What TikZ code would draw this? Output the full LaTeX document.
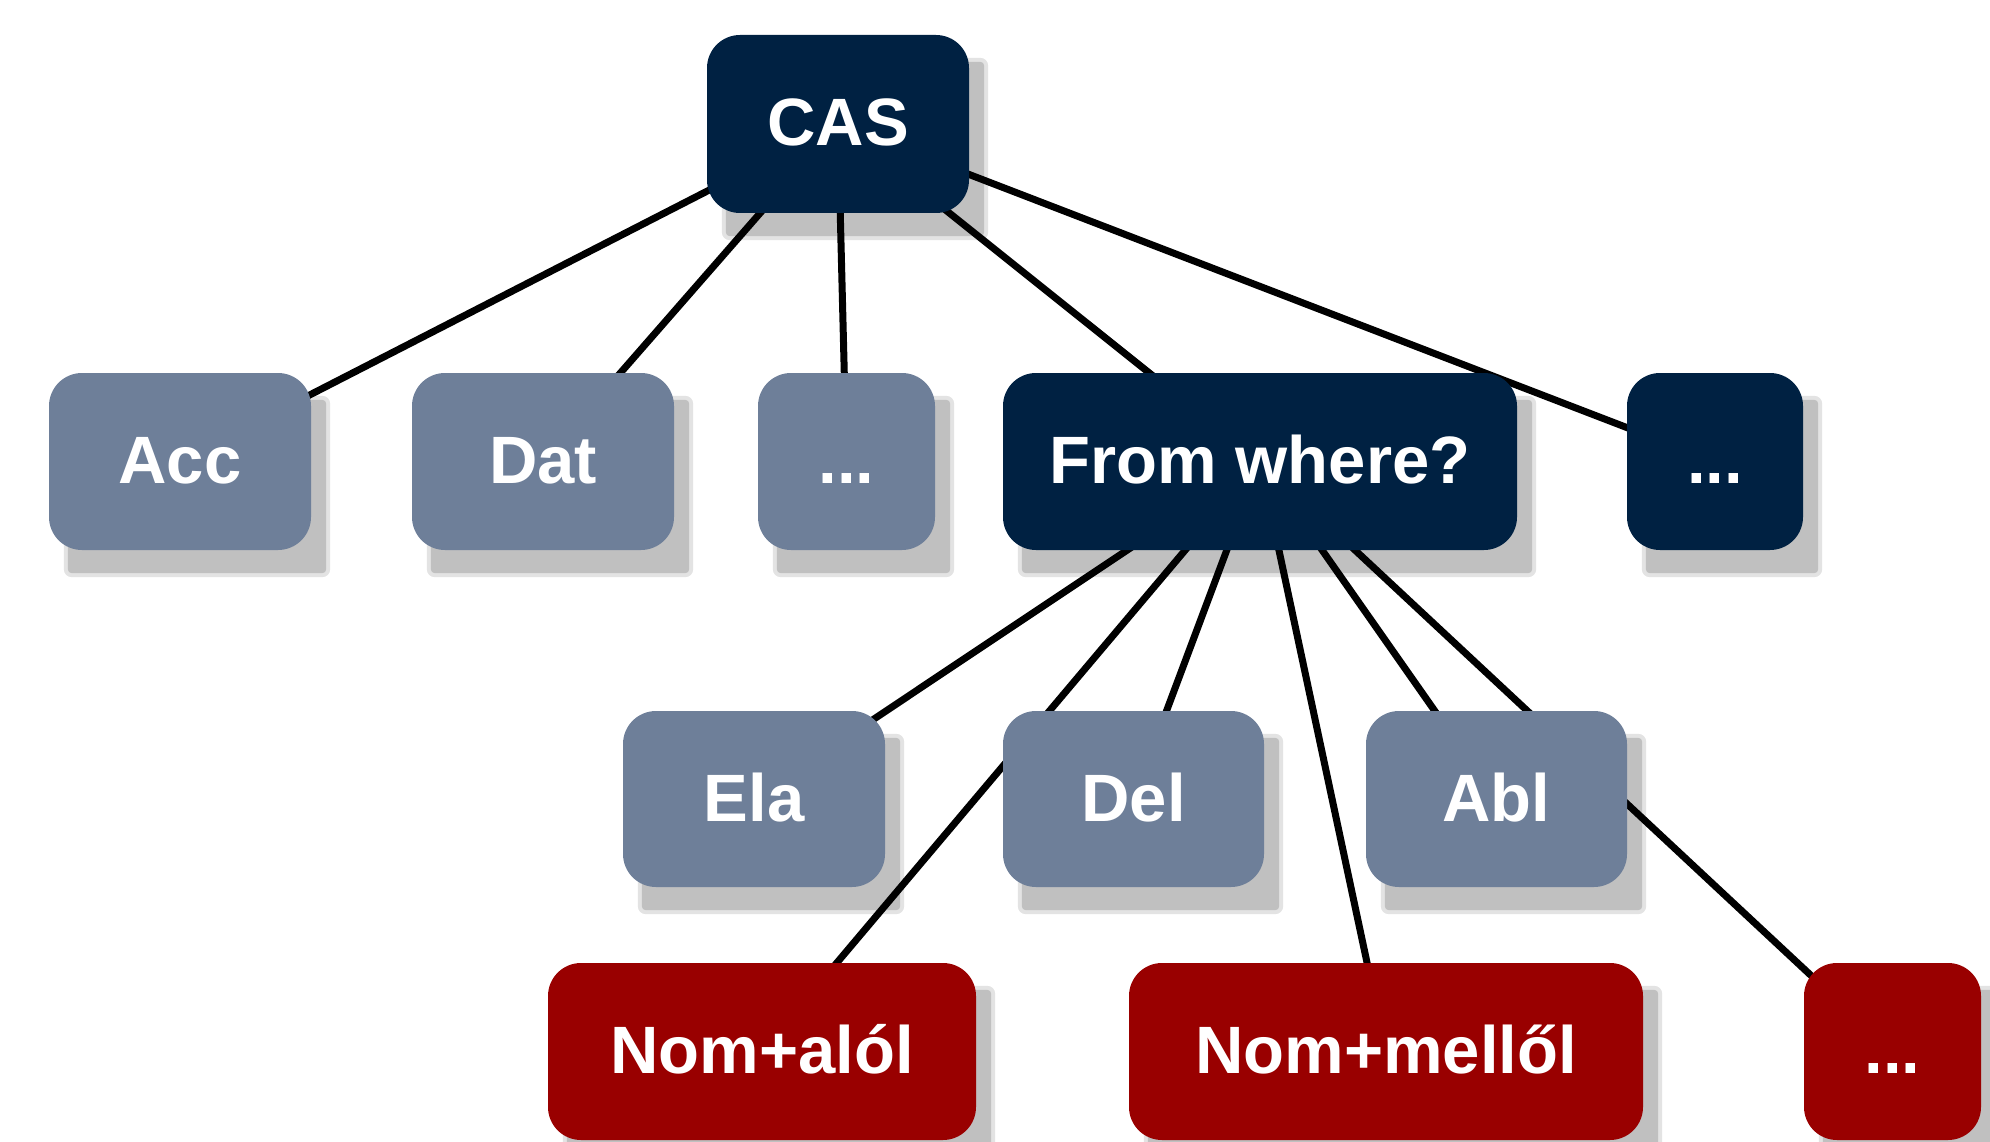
\documentclass[tikz,border=0pt]{standalone}
\usepackage{fontspec}
\setmainfont{Liberation Sans}
\definecolor{navy}{HTML}{002142}
\definecolor{slate}{HTML}{6E7F99}
\definecolor{dred}{HTML}{990000}
\definecolor{shad}{HTML}{C0C0C0}
\pgfdeclarelayer{bg}
\pgfdeclarelayer{mid}
\pgfsetlayers{bg,mid,main}
\tikzset{
  cbox/.style={rectangle, rounded corners=33pt, minimum height=177pt, inner sep=0pt,
    text=white, font=\fontsize{67}{80}\selectfont\bfseries, text height=44pt, text depth=0pt},
  navybox/.style={cbox, fill=navy},
  slatebox/.style={cbox, fill=slate},
  redbox/.style={cbox, fill=dred},
  conn/.style={line width=7pt, black},
}
\newcommand{\myshadow}[1]{%
  \fill[shad!45, rounded corners=8pt] ([shift={(15,23)}]#1.north west) rectangle ([shift={(19,27)}]#1.south east);
  \fill[shad, rounded corners=4pt] ([shift={(19,27)}]#1.north west) rectangle ([shift={(15,23)}]#1.south east);
}
\begin{document}
\begin{tikzpicture}[x=1pt,y=-1pt]
\useasboundingbox (0,0) rectangle (1990,1142);
\node[navybox, minimum width=262pt, minimum height=178pt] (cas) at (838,124) {CAS};
\node[slatebox, minimum width=262pt] (acc) at (180,461.5) {Acc};
\node[slatebox, minimum width=262pt] (dat) at (543,461.5) {Dat};
\node[slatebox, minimum width=177pt] (dotsa) at (846.5,461.5) {...};
\node[navybox, minimum width=514pt] (from) at (1260,461.5) {From where?};
\node[navybox, minimum width=176pt] (dotsb) at (1715,461.5) {...};
\node[slatebox, minimum width=262pt, minimum height=176pt] (ela) at (754,799) {Ela};
\node[slatebox, minimum width=261pt, minimum height=176pt] (del) at (1133.5,799) {Del};
\node[slatebox, minimum width=261pt, minimum height=176pt] (abl) at (1496.5,799) {Abl};
\node[redbox, minimum width=428pt] (alol) at (762,1051.5) {Nom+alól};
\node[redbox, minimum width=514pt] (mellol) at (1386,1051.5) {Nom+mellől};
\node[redbox, minimum width=177pt] (dotsc) at (1892.5,1051.5) {...};
\begin{pgfonlayer}{bg}
  \foreach \n in {cas,acc,dat,dotsa,from,dotsb,ela,del,abl,alol,mellol,dotsc}{\myshadow{\n}}
\end{pgfonlayer}
\begin{pgfonlayer}{mid}
  \draw[conn] (cas.center) -- (acc.center);
  \draw[conn] (cas.center) -- (dat.center);
  \draw[conn] (cas.center) -- (dotsa.center);
  \draw[conn] (cas.center) -- (from.center);
  \draw[conn] (cas.center) -- (dotsb.center);
  \draw[conn] (from.center) -- (ela.center);
  \draw[conn] (from.center) -- (alol.center);
  \draw[conn] (from.center) -- (del.center);
  \draw[conn] (from.center) -- (mellol.center);
  \draw[conn] (from.center) -- (abl.center);
  \draw[conn] (from.center) -- (dotsc.center);
\end{pgfonlayer}
\end{tikzpicture}
\end{document}
